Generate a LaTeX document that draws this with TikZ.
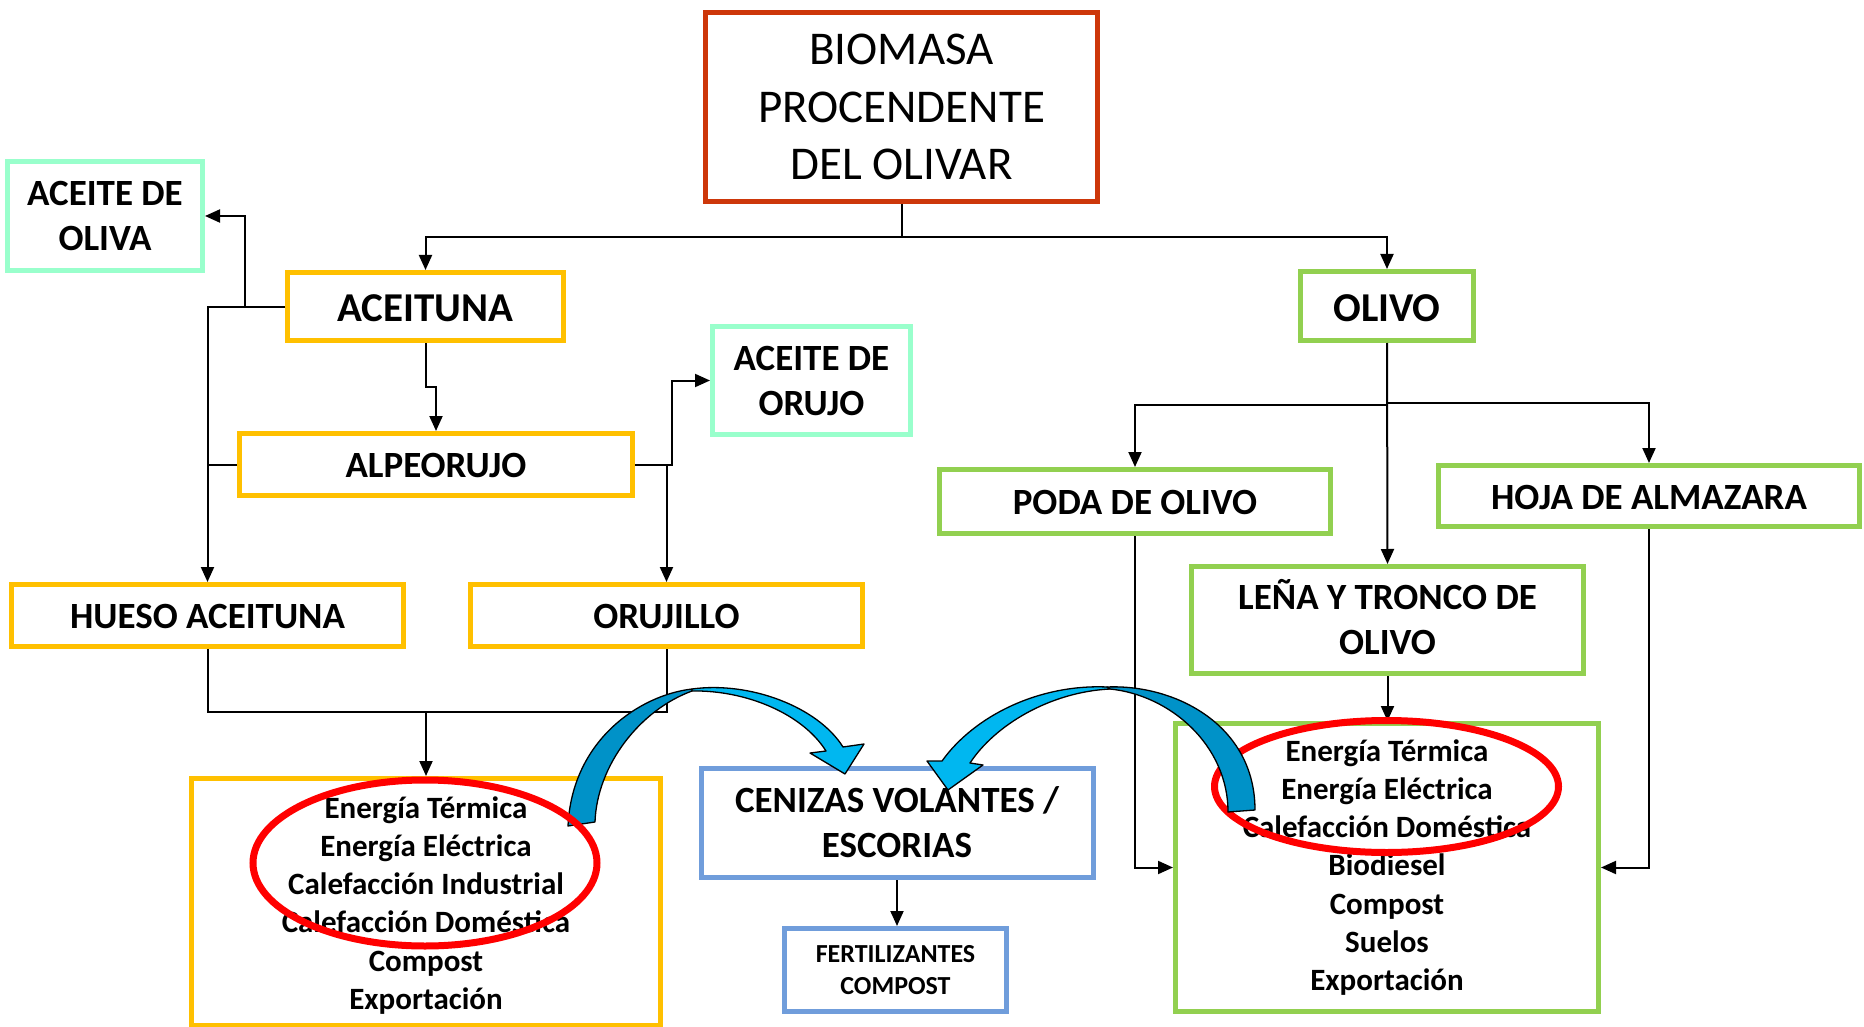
\documentclass[tikz,border=0pt]{standalone}
\usepackage{fontspec}
\setmainfont{Carlito}
\usetikzlibrary{arrows.meta}
\definecolor{bioRed}{RGB}{205,55,10}
\definecolor{oYellow}{RGB}{255,192,0}
\definecolor{mint}{RGB}{153,255,204}
\definecolor{oGreen}{RGB}{146,208,80}
\definecolor{oBlue}{RGB}{112,157,219}
\definecolor{cyanL}{RGB}{0,183,240}
\definecolor{cyanD}{RGB}{0,146,200}
\begin{document}
\begin{tikzpicture}[x=1pt,y=-1pt,
  box/.style={draw, line width=5pt, inner sep=0pt, rectangle},
  conn/.style={line width=2pt, black},
  arr/.style={conn, -{Triangle[length=15pt,width=13pt]}},
  lbl/.style={inner sep=0pt, anchor=base, font=\bfseries\fontsize{37}{45}\selectfont},
  big/.style={inner sep=0pt, anchor=base, font=\bfseries\fontsize{41}{50}\selectfont},
  lst/.style={inner sep=0pt, anchor=base, font=\bfseries\fontsize{31}{38.3}\selectfont},
  small/.style={inner sep=0pt, anchor=base, font=\bfseries\fontsize{26}{32}\selectfont},
  title/.style={inner sep=0pt, anchor=base, font=\fontsize{47}{57.5}\selectfont},
  ring/.style={draw=red, line width=7pt},
  bandL/.style={fill=cyanL, draw=black, line width=1.3pt, line join=round},
  bandD/.style={fill=cyanD, draw=black, line width=1.3pt, line join=round}
]
\useasboundingbox (0,0) rectangle (1864,1027);

% boxes
\node[box, draw=bioRed, minimum width=392pt, minimum height=189pt] (bio) at (901.5,107) {};
\node[box, draw=mint, minimum width=195pt, minimum height=109pt] (oliva) at (105,216) {};
\node[box, draw=oYellow, minimum width=276pt, minimum height=68pt] (aceituna) at (425.5,306.5) {};
\node[box, draw=oYellow, minimum width=393pt, minimum height=62pt] (alpe) at (436,464.5) {};
\node[box, draw=mint, minimum width=198pt, minimum height=108pt] (orujo) at (811.5,380.5) {};
\node[box, draw=oYellow, minimum width=392pt, minimum height=62pt] (hueso) at (207.5,615.5) {};
\node[box, draw=oYellow, minimum width=392pt, minimum height=62pt] (orujillo) at (666.5,615.5) {};
\node[box, draw=oYellow, minimum width=469pt, minimum height=246.5pt] (usosL) at (426,901.75) {};
\node[box, draw=oBlue, minimum width=392pt, minimum height=109pt] (cen) at (897,823) {};
\node[box, draw=oBlue, minimum width=222pt, minimum height=83pt] (fert) at (895.5,970) {};
\node[box, draw=oGreen, minimum width=173pt, minimum height=69pt] (olivo) at (1387,306) {};
\node[box, draw=oGreen, minimum width=391pt, minimum height=64pt] (poda) at (1135,501.5) {};
\node[box, draw=oGreen, minimum width=421pt, minimum height=61pt] (hoja) at (1649,496) {};
\node[box, draw=oGreen, minimum width=392pt, minimum height=107pt] (lena) at (1387.5,620) {};
\node[box, draw=oGreen, minimum width=423pt, minimum height=288pt] (usosR) at (1387,867.5) {};

% texts
\node[title] (bioT) at (901.5,65) {\begin{tabular}[t]{@{}c@{}}BIOMASA\\PROCENDENTE\\DEL OLIVAR\end{tabular}};
\node[lbl] (olivaT) at (105,206) {\begin{tabular}[t]{@{}c@{}}ACEITE DE\\OLIVA\end{tabular}};
\node[big] (aceitunaT) at (425.5,321) {ACEITUNA};
\node[lbl] (alpeT) at (436,477) {ALPEORUJO};
\node[lbl] (orujoT) at (811.5,370) {\begin{tabular}[t]{@{}c@{}}ACEITE DE\\ORUJO\end{tabular}};
\node[lbl] (huesoT) at (207.5,628) {HUESO ACEITUNA};
\node[lbl] (orujilloT) at (666.5,628) {ORUJILLO};
\node[lst] (usosLT) at (426,818) {\begin{tabular}[t]{@{}c@{}}Energía Térmica\\Energía Eléctrica\\Calefacción Industrial\\Calefacción Doméstica\\Compost\\Exportación\end{tabular}};
\node[lbl] (cenT) at (897,812) {\begin{tabular}[t]{@{}c@{}}CENIZAS VOLANTES /\\ESCORIAS\end{tabular}};
\node[small] (fertT) at (895.5,962) {\begin{tabular}[t]{@{}c@{}}FERTILIZANTES\\COMPOST\end{tabular}};
\node[big] (olivoT) at (1387,321) {OLIVO};
\node[lbl] (podaT) at (1135,514) {PODA DE OLIVO};
\node[lbl] (hojaT) at (1649,509) {HOJA DE ALMAZARA};
\node[lbl] (lenaT) at (1387.5,609) {\begin{tabular}[t]{@{}c@{}}LEÑA Y TRONCO DE\\OLIVO\end{tabular}};
\node[lst] (usosRT) at (1387,761) {\begin{tabular}[t]{@{}c@{}}Energía Térmica\\Energía Eléctrica\\Calefacción Doméstica\\Biodiesel\\Compost\\Suelos\\Exportación\end{tabular}};

% junction coordinates
\coordinate (j1) at (901.5,237);
\coordinate (j2) at (245,306.5);
\coordinate (j3) at (425.5,387);
\coordinate (j4) at (672,464.5);
\coordinate (j5) at (426,712);
\coordinate (j6) at (1387,405);
\coordinate (j7) at (1387,403);

% connectors
\draw[arr] (bio.south) -- (j1) -| (aceituna.north);
\draw[arr] (j1) -| (olivo.north);
\draw[arr] (aceituna.west) -- (j2) |- (oliva.east);
\draw[arr] (aceituna.west) -| (hueso.north);
\draw[conn] (alpe.west) -- (alpe.west -| hueso.north);
\draw[arr] (aceituna.south) -- (j3) -| (alpe.north);
\draw[arr] (alpe.east) -- (j4) |- (orujo.west);
\draw[arr] (alpe.east) -| (orujillo.north);
\draw[conn] (hueso.south) -- (hueso.south |- j5) -- (orujillo.south |- j5) -- (orujillo.south);
\draw[arr] (j5) -- (usosL.north);
\draw[arr] (cen.south) -- (cen.south |- fert.north);
\draw[arr] (olivo.south) -- (lena.north);
\draw[arr] (j6) -| (poda.north);
\draw[arr] (j7) -| (hoja.north);
\draw[arr] (lena.south) -- (lena.south |- usosR.north);
\draw[arr] (poda.south) |- (usosR.west);
\draw[arr] (hoja.south) |- (usosR.east);

% left curved arrow
\path[bandD] (692,689) .. controls (640,695) and (572,740) .. (568,826) -- (595,822) .. controls (597,765) and (640,710) .. (692,691) -- cycle;
\path[bandL] (692,689) .. controls (750,681) and (818,707) .. (843,747) -- (864,744) -- (845,774) -- (810,753) -- (826,751) .. controls (802,713) and (745,690) .. (692,691) -- cycle;
\draw[ring] (425,863) ellipse [x radius=172, y radius=83];

% right red ring then curved arrow
\draw[ring] (1386.5,786.5) ellipse [x radius=172, y radius=66];
\path[bandL] (1107,687) .. controls (1040,684) and (975,715) .. (942,761) -- (927,761) -- (948,790) -- (983,765) -- (970,763) .. controls (995,725) and (1050,692) .. (1110,689) -- cycle;
\path[bandD] (1107,687) .. controls (1175,684) and (1255,725) .. (1255,810) -- (1228,812) .. controls (1228,745) and (1170,695) .. (1110,689) -- cycle;
\end{tikzpicture}
\end{document}
